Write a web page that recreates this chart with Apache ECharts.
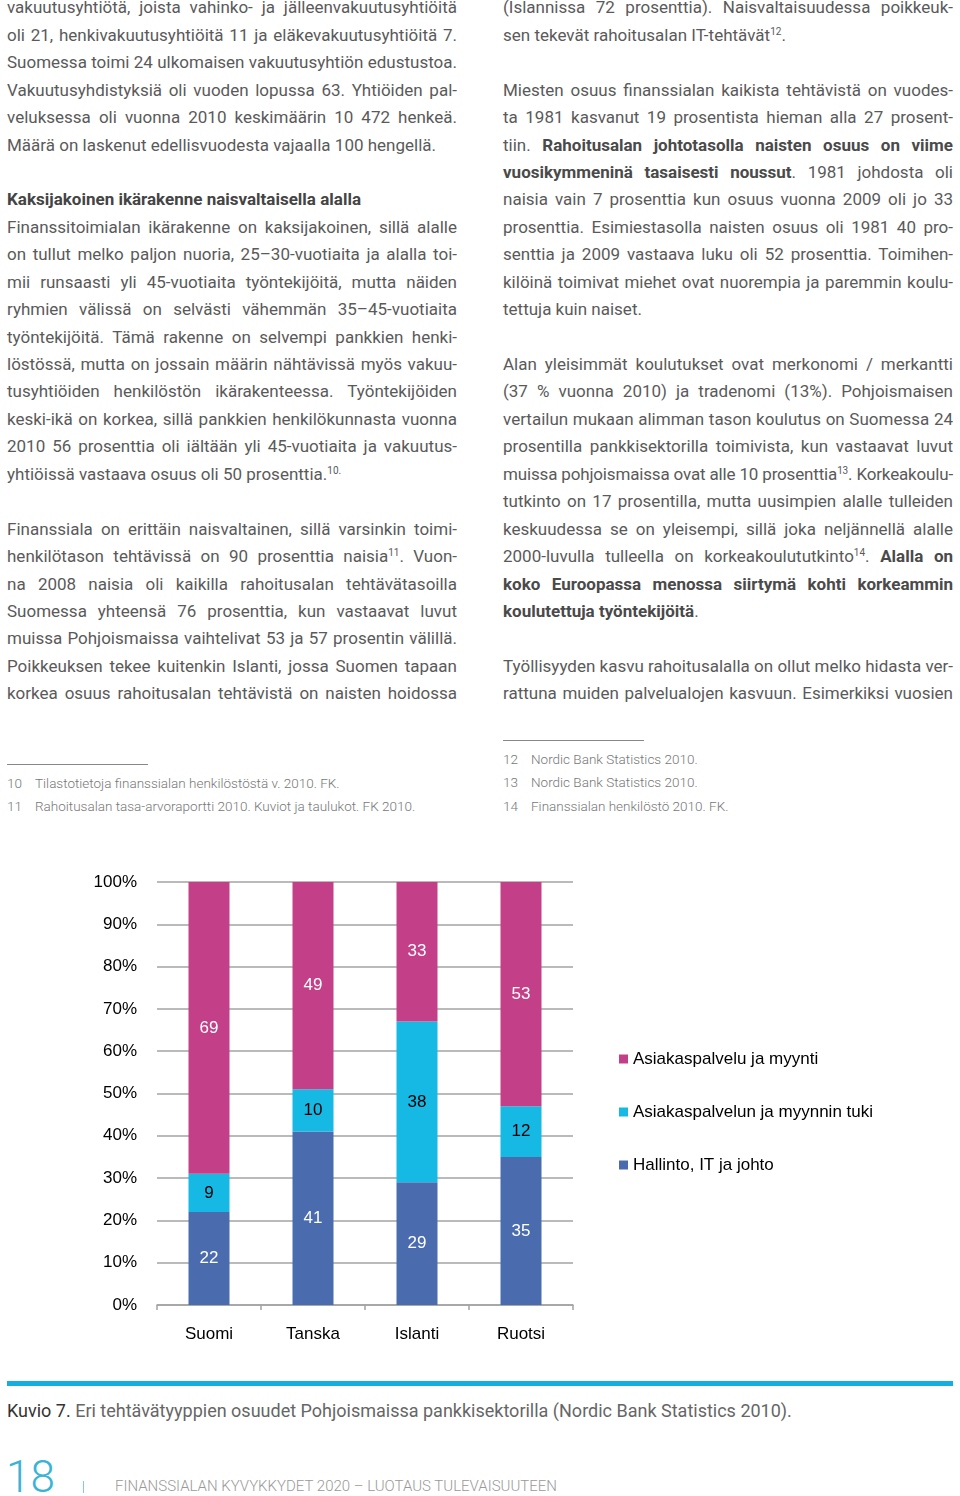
<!DOCTYPE html>
<html>
<head>
<meta charset="utf-8">
<script src="https://cdn.jsdelivr.net/npm/echarts@6/dist/echarts.min.js"></script>
<style>
  html, body { margin: 0; padding: 0; background: #fff; }
  body { width: 960px; height: 1496px; position: relative; overflow: hidden; font-family: Roboto, "Noto Sans", sans-serif; }
  .col { position: absolute; top: -5.7px; width: 450px; color: #5a5a5a; font-size: 17px; line-height: 27.45px; }
  .ln { height: 27.45px; white-space: nowrap; overflow: visible; }
  .ln.j { text-align: justify; text-align-last: justify; }
  .ln b { font-weight: 700; color: #4a4a4a; }
  .ln.h { font-weight: 700; color: #444; }
  sup { font-size: 10px; line-height: 0; vertical-align: 6px; }
  .rule { position: absolute; height: 1px; background: #888; width: 141px; }
  .fn { position: absolute; font-size: 13.5px; color: #777; font-weight: 300; white-space: nowrap; line-height: 16px; }
  .fn .n { display: inline-block; width: 28px; }
  #chart { position: absolute; left: 0; top: 851px; width: 960px; height: 510px; }
  .bar { position: absolute; left: 7px; top: 1381px; width: 946px; height: 5px; background: #15aee0; }
  .cap { position: absolute; left: 7px; top: 1400px; font-size: 18px; color: #666; white-space: nowrap; line-height: 22px; }
  .cap span { color: #333; }
  .pg { position: absolute; left: 6px; top: 1454px; font-size: 44px; font-weight: 300; color: #3ab3d6; line-height: 46px; }
  .sep { position: absolute; left: 83px; top: 1481px; width: 1px; height: 12px; background: #7fcbe3; }
  .ft { position: absolute; left: 115px; top: 1477px; font-size: 15px; font-weight: 300; color: #999; white-space: nowrap; line-height: 18px; }
</style>
</head>
<body>

<div class="col" id="left" style="left:7px">
  <div class="ln j"><span>vakuutusyhtiötä, joista vahinko- ja jälleenvakuutusyhtiöitä</span></div>
  <div class="ln j"><span>oli 21, henkivakuutusyhtiöitä 11 ja eläkevakuutusyhtiöitä 7.</span></div>
  <div class="ln j"><span>Suomessa toimi 24 ulkomaisen vakuutusyhtiön edustustoa.</span></div>
  <div class="ln j"><span>Vakuutusyhdistyksiä oli vuoden lopussa 63. Yhtiöiden pal-</span></div>
  <div class="ln j"><span>veluksessa oli vuonna 2010 keskimäärin 10 472 henkeä.</span></div>
  <div class="ln"><span>Määrä on laskenut edellisvuodesta vajaalla 100 hengellä.</span></div>
  <div class="ln"></div>
  <div class="ln h"><span>Kaksijakoinen ikärakenne naisvaltaisella alalla</span></div>
  <div class="ln j"><span>Finanssitoimialan ikärakenne on kaksijakoinen, sillä alalle</span></div>
  <div class="ln j"><span>on tullut melko paljon nuoria, 25–30-vuotiaita ja alalla toi-</span></div>
  <div class="ln j"><span>mii runsaasti yli 45-vuotiaita työntekijöitä, mutta näiden</span></div>
  <div class="ln j"><span>ryhmien välissä on selvästi vähemmän 35–45-vuotiaita</span></div>
  <div class="ln j"><span>työntekijöitä. Tämä rakenne on selvempi pankkien henki-</span></div>
  <div class="ln j"><span>löstössä, mutta on jossain määrin nähtävissä myös vakuu-</span></div>
  <div class="ln j"><span>tusyhtiöiden henkilöstön ikärakenteessa. Työntekijöiden</span></div>
  <div class="ln j"><span>keski-ikä on korkea, sillä pankkien henkilökunnasta vuonna</span></div>
  <div class="ln j"><span>2010 56 prosenttia oli iältään yli 45-vuotiaita ja vakuutus-</span></div>
  <div class="ln"><span>yhtiöissä vastaava osuus oli 50 prosenttia.<sup>10.</sup></span></div>
  <div class="ln"></div>
  <div class="ln j"><span>Finanssiala on erittäin naisvaltainen, sillä varsinkin toimi-</span></div>
  <div class="ln j"><span>henkilötason tehtävissä on 90 prosenttia naisia<sup>11</sup>. Vuon-</span></div>
  <div class="ln j"><span>na 2008 naisia oli kaikilla rahoitusalan tehtävätasoilla</span></div>
  <div class="ln j"><span>Suomessa yhteensä 76 prosenttia, kun vastaavat luvut</span></div>
  <div class="ln j"><span>muissa Pohjoismaissa vaihtelivat 53 ja 57 prosentin välillä.</span></div>
  <div class="ln j"><span>Poikkeuksen tekee kuitenkin Islanti, jossa Suomen tapaan</span></div>
  <div class="ln j"><span>korkea osuus rahoitusalan tehtävistä on naisten hoidossa</span></div>
</div>

<div class="col" id="right" style="left:503px">
  <div class="ln j"><span>(Islannissa 72 prosenttia). Naisvaltaisuudessa poikkeuk-</span></div>
  <div class="ln"><span>sen tekevät rahoitusalan IT-tehtävät<sup>12</sup>.</span></div>
  <div class="ln"></div>
  <div class="ln j"><span>Miesten osuus finanssialan kaikista tehtävistä on vuodes-</span></div>
  <div class="ln j"><span>ta 1981 kasvanut 19 prosentista hieman alla 27 prosent-</span></div>
  <div class="ln j"><span>tiin. <b>Rahoitusalan johtotasolla naisten osuus on viime</b></span></div>
  <div class="ln j"><span><b>vuosikymmeninä tasaisesti noussut</b>. 1981 johdosta oli</span></div>
  <div class="ln j"><span>naisia vain 7 prosenttia kun osuus vuonna 2009 oli jo 33</span></div>
  <div class="ln j"><span>prosenttia. Esimiestasolla naisten osuus oli 1981 40 pro-</span></div>
  <div class="ln j"><span>senttia ja 2009 vastaava luku oli 52 prosenttia. Toimihen-</span></div>
  <div class="ln j"><span>kilöinä toimivat miehet ovat nuorempia ja paremmin koulu-</span></div>
  <div class="ln"><span>tettuja kuin naiset.</span></div>
  <div class="ln"></div>
  <div class="ln j"><span>Alan yleisimmät koulutukset ovat merkonomi / merkantti</span></div>
  <div class="ln j"><span>(37 % vuonna 2010) ja tradenomi (13%). Pohjoismaisen</span></div>
  <div class="ln j"><span>vertailun mukaan alimman tason koulutus on Suomessa 24</span></div>
  <div class="ln j"><span>prosentilla pankkisektorilla toimivista, kun vastaavat luvut</span></div>
  <div class="ln j"><span>muissa pohjoismaissa ovat alle 10 prosenttia<sup>13</sup>. Korkeakoulu-</span></div>
  <div class="ln j"><span>tutkinto on 17 prosentilla, mutta uusimpien alalle tulleiden</span></div>
  <div class="ln j"><span>keskuudessa se on yleisempi, sillä joka neljännellä alalle</span></div>
  <div class="ln j"><span>2000-luvulla tulleella on korkeakoulututkinto<sup>14</sup>. <b>Alalla on</b></span></div>
  <div class="ln j"><span><b>koko Euroopassa menossa siirtymä kohti korkeammin</b></span></div>
  <div class="ln"><span><b>koulutettuja työntekijöitä</b>.</span></div>
  <div class="ln"></div>
  <div class="ln j"><span>Työllisyyden kasvu rahoitusalalla on ollut melko hidasta ver-</span></div>
  <div class="ln j"><span>rattuna muiden palvelualojen kasvuun. Esimerkiksi vuosien</span></div>
</div>

<div class="rule" style="left:7px; top:764px"></div>
<div class="fn" style="left:7px; top:775px"><span class="n">10</span>Tilastotietoja finanssialan henkilöstöstä v. 2010. FK.</div>
<div class="fn" style="left:7px; top:798px"><span class="n">11</span>Rahoitusalan tasa-arvoraportti 2010. Kuviot ja taulukot. FK 2010.</div>

<div class="rule" style="left:503px; top:740px"></div>
<div class="fn" style="left:503px; top:751px"><span class="n">12</span>Nordic Bank Statistics 2010.</div>
<div class="fn" style="left:503px; top:774px"><span class="n">13</span>Nordic Bank Statistics 2010.</div>
<div class="fn" style="left:503px; top:798px"><span class="n">14</span>Finanssialan henkilöstö 2010. FK.</div>

<div id="chart"></div>

<div class="bar"></div>
<div class="cap"><span>Kuvio 7.</span> Eri tehtävätyyppien osuudet Pohjoismaissa pankkisektorilla (Nordic Bank Statistics 2010).</div>

<div class="pg">18</div>
<div class="sep"></div>
<div class="ft">FINANSSIALAN KYVYKKYDET 2020 – LUOTAUS TULEVAISUUTEEN</div>

<script>
// squeeze lines that are wider than the column, then justify
document.querySelectorAll('.col .ln').forEach(function (el) {
  var s = el.querySelector('span');
  if (!s) return;
  var w = 450;
  var nat = s.getBoundingClientRect().width;
  if (nat > w) {
    var n = s.textContent.length;
    el.style.letterSpacing = ((w - nat) / n).toFixed(3) + 'px';
  }
});

const countries = ['Suomi', 'Tanska', 'Islanti', 'Ruotsi'];
const hallinto = [22, 41, 29, 35];   // Hallinto, IT ja johto
const tuki = [9, 10, 38, 12];        // Asiakaspalvelun ja myynnin tuki
const myynti = [69, 49, 33, 53];     // Asiakaspalvelu ja myynti

const chart = echarts.init(document.getElementById('chart'));
const font = '"Liberation Sans", Arial, sans-serif';

const mkSeries = (name, data, color, labelColor) => ({
  name: name,
  type: 'bar',
  stack: 'total',
  data: data,
  barWidth: 41,
  itemStyle: { color: color },
  label: {
    show: true,
    position: 'inside',
    color: labelColor,
    fontSize: 17,
    fontFamily: font
  }
});

chart.setOption({
  animation: false,
  textStyle: { fontFamily: font },
  grid: { left: 157, right: 387, top: 31, bottom: 56 },
  legend: {
    orient: 'vertical',
    left: 614,
    top: 194,
    itemGap: 35,
    itemWidth: 9,
    itemHeight: 9,
    icon: 'rect',
    data: ['Asiakaspalvelu ja myynti', 'Asiakaspalvelun ja myynnin tuki', 'Hallinto, IT ja johto'],
    textStyle: { color: '#000', fontSize: 17, lineHeight: 18, fontFamily: font }
  },
  xAxis: {
    type: 'category',
    data: countries,
    axisLine: { lineStyle: { color: '#a3a3a3', width: 1.5 } },
    axisTick: { show: true, length: 5, lineStyle: { color: '#a3a3a3', width: 1.5 } },
    axisLabel: { color: '#000', fontSize: 17, margin: 21, fontFamily: font }
  },
  yAxis: {
    type: 'value',
    min: 0,
    max: 100,
    interval: 10,
    axisLine: { show: false },
    axisTick: { show: false },
    axisLabel: { formatter: '{value}%', color: '#000', fontSize: 17, margin: 20, fontFamily: font },
    splitLine: { lineStyle: { color: '#a3a3a3', width: 1.5 } }
  },
  series: [
    mkSeries('Hallinto, IT ja johto', hallinto, '#4a6caf', '#fff'),
    mkSeries('Asiakaspalvelun ja myynnin tuki', tuki, '#16b8e4', '#000'),
    mkSeries('Asiakaspalvelu ja myynti', myynti, '#c34088', '#fff')
  ]
});
</script>
</body>
</html>
